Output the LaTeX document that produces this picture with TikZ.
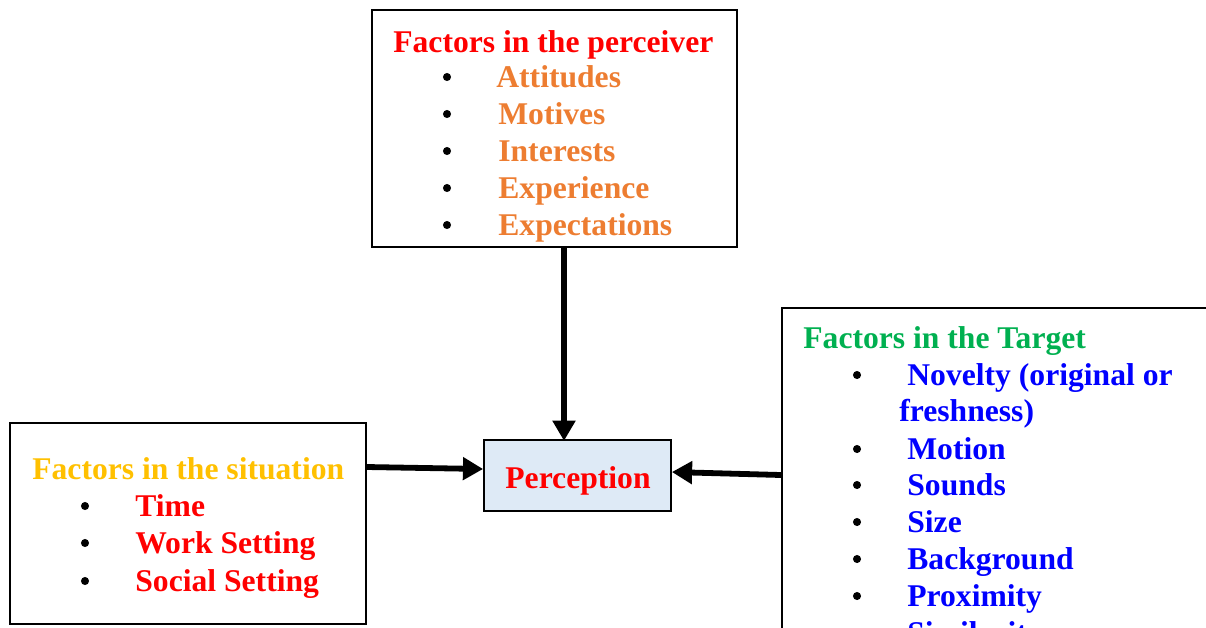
\documentclass[tikz,border=0pt]{standalone}
\usepackage{fontspec}
\setmainfont{Liberation Serif}
\usetikzlibrary{arrows.meta,fit}
\definecolor{perred}{HTML}{FF0000}
\definecolor{perorange}{HTML}{ED7D31}
\definecolor{pergold}{HTML}{FFC000}
\definecolor{pergreen}{HTML}{00B050}
\definecolor{perblue}{HTML}{0000FF}
\definecolor{perfill}{HTML}{DEEAF6}
\tikzset{
  box/.style={draw=black, line width=1pt, inner sep=0pt},
  txt/.style={font=\fontsize{18}{21}\selectfont\bfseries, inner sep=0pt, anchor=base west},
  bul/.style={circle, fill=black, inner sep=0pt, minimum size=4.6pt},
  arr/.style={line width=3.3pt, -{Triangle[length=11.5pt,width=12.5pt]}}
}
\begin{document}
\begin{tikzpicture}[x=0.02cm, y=-0.02cm]
  \useasboundingbox (0,0) rectangle (1206,627);
  \clip (0,0) rectangle (1206,627);

  \node[box, fit={(372,10) (737,247)}] (perceiver) {};
  \node[box, fit={(10,423) (366,624)}] (situation) {};
  \node[box, fit={(782,308) (1230,660)}] (target) {};
  \node[box, fill=perfill, fit={(484,440) (671,511)}] (perception) {};

  \node[txt, text=perred] (pt) at (393,52) {Factors in the perceiver};
  \node[txt, text=perorange] (p1) at (496,87) {Attitudes};
  \node[txt, text=perorange] (p2) at (498,124) {Motives};
  \node[txt, text=perorange] (p3) at (498,161) {Interests};
  \node[txt, text=perorange] (p4) at (498,198) {Experience};
  \node[txt, text=perorange] (p5) at (498,235) {Expectations};
  \foreach \y in {77,114,151,188,225}
    \node[bul] at (447,\y) {};

  \node[txt, text=pergold] (st) at (32,479) {Factors in the situation};
  \node[txt, text=perred] (s1) at (135,516) {Time};
  \node[txt, text=perred] (s2) at (135,553) {Work Setting};
  \node[txt, text=perred] (s3) at (135,591) {Social Setting};
  \foreach \y in {506,543,581}
    \node[bul] at (85,\y) {};

  \node[txt, text=pergreen] (tt) at (803,348) {Factors in the Target};
  \node[txt, text=perblue] (t1) at (907,385) {Novelty (original or};
  \node[txt, text=perblue] (t1b) at (899,421) {freshness)};
  \node[txt, text=perblue] (t2) at (907,459) {Motion};
  \node[txt, text=perblue] (t3) at (907,495) {Sounds};
  \node[txt, text=perblue] (t4) at (907,532) {Size};
  \node[txt, text=perblue] (t5) at (907,569) {Background};
  \node[txt, text=perblue] (t6) at (907,606) {Proximity};
  \node[txt, text=perblue] (t7) at (907,643) {Similarity};
  \foreach \y in {375,449,485,522,559,596}
    \node[bul] at (857,\y) {};

  \node[txt, text=perred, anchor=base] (pl) at (578,488) {Perception};

  \coordinate (colA) at (564,0);
  \coordinate (rowA) at (0,467);
  \coordinate (rowB) at (0,469);
  \coordinate (rowC) at (0,475);
  \coordinate (rowD) at (0,472);

  \draw[arr] (perceiver.south -| colA) -- ([yshift=-1pt]perception.north -| colA);
  \draw[arr] (situation.east |- rowA) -- (perception.west |- rowB);
  \draw[arr] (target.west |- rowC) -- (perception.east |- rowD);
\end{tikzpicture}
\end{document}
